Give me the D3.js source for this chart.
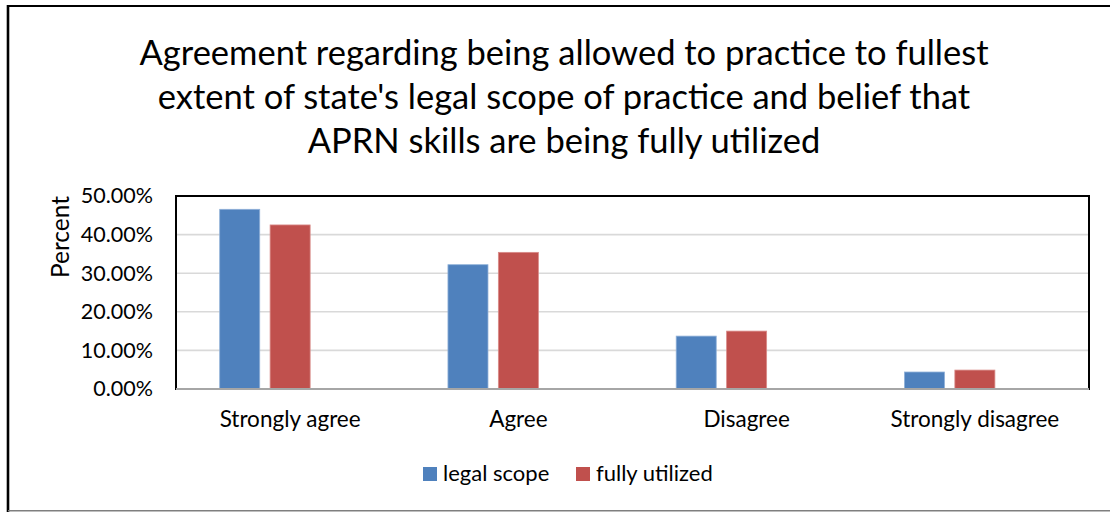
<!DOCTYPE html>
<html>
<head>
<meta charset="utf-8">
<script src="https://cdn.jsdelivr.net/npm/d3@7"></script>
<style>
  html, body { margin: 0; padding: 0; background: #fff; }
  svg { display: block; }
  text { font-family: Lato, "Open Sans", sans-serif; fill: #000; }
</style>
</head>
<body>
<svg id="chart" width="1110" height="512"></svg>
<script>
// ---- data ----
const titleLines = [
  "Agreement regarding being allowed to practice to fullest",
  "extent of state's legal scope of practice and belief that",
  "APRN skills are being fully utilized"
];
const categories = ["Strongly agree", "Agree", "Disagree", "Strongly disagree"];
const seriesNames = ["legal scope", "fully utilized"];
const legalScope = [0.4655, 0.322, 0.137, 0.044];
const fullyUtilized = [0.425, 0.354, 0.150, 0.049];
const yTicks = [0, 0.1, 0.2, 0.3, 0.4, 0.5];
const yAxisTitle = "Percent";
const colors = ["#4F81BD", "#C0504D"];

// ---- layout ----
const svg = d3.select("#chart");
const plot = { left: 176, right: 1089, top: 196, bottom: 389 };

// outer chart border
svg.append("line").attr("x1", 8).attr("x2", 1110).attr("y1", 6).attr("y2", 6)
  .attr("stroke", "#000").attr("stroke-width", 2.2);
svg.append("line").attr("x1", 8).attr("x2", 8).attr("y1", 5).attr("y2", 512)
  .attr("stroke", "#000").attr("stroke-width", 2.6);
svg.append("line").attr("x1", 8).attr("x2", 1110).attr("y1", 510.8).attr("y2", 510.8)
  .attr("stroke", "#7f7f7f").attr("stroke-width", 1.6);

// title
const titleG = svg.append("g");
titleLines.forEach((t, i) => {
  titleG.append("text")
    .attr("x", 564).attr("y", 65 + i * 44)
    .attr("text-anchor", "middle")
    .style("font-size", "34.5px")
    .text(t);
});

// scales
const y = d3.scaleLinear().domain([0, 0.5]).range([plot.bottom, plot.top]);
const x0 = d3.scaleBand().domain(categories).range([plot.left, plot.right]).padding(0);
// third, empty slot reproduces the original off-centre grouping
const x1 = d3.scaleBand().domain([...seriesNames, "_empty"]).range([0, x0.bandwidth()])
  .paddingInner(0.206).paddingOuter(0.867);

// gridlines
svg.append("g")
  .selectAll("line")
  .data(yTicks.filter(d => d > 0 && d < 0.5))
  .join("line")
  .attr("x1", plot.left).attr("x2", plot.right)
  .attr("y1", d => y(d)).attr("y2", d => y(d))
  .attr("stroke", "#d9d9d9").attr("stroke-width", 1.6);

// bars
const rows = categories.map((c, i) => ({ cat: c, vals: [legalScope[i], fullyUtilized[i]] }));
const barG = svg.append("g");
rows.forEach(r => {
  r.vals.forEach((v, j) => {
    barG.append("rect")
      .attr("x", x0(r.cat) + x1(seriesNames[j]))
      .attr("y", y(v))
      .attr("width", x1.bandwidth())
      .attr("height", y(0) - y(v))
      .attr("fill", colors[j])
      .attr("stroke", j === 0 ? "#8fb0d8" : "#d98b89")
      .attr("stroke-width", 0.8);
  });
});

// plot area border
svg.append("rect")
  .attr("x", plot.left).attr("y", plot.top)
  .attr("width", plot.right - plot.left).attr("height", plot.bottom - plot.top)
  .attr("fill", "none").attr("stroke", "#000").attr("stroke-width", 2);
// category axis line
svg.append("line").attr("x1", plot.left).attr("x2", plot.right)
  .attr("y1", plot.bottom).attr("y2", plot.bottom)
  .attr("stroke", "#a6a6a6").attr("stroke-width", 2);

// y axis labels
const yAxis = d3.axisLeft(y).tickValues(yTicks).tickFormat(d3.format(".2%")).tickSize(0).tickPadding(0);
const yg = svg.append("g").attr("transform", `translate(153,0)`).call(yAxis);
yg.select(".domain").remove();
yg.selectAll("text").style("font-size", "21.5px").style("font-family", "Lato, sans-serif").attr("fill", "#000");

// x axis labels
const xAxis = d3.axisBottom(x0).tickSize(0).tickPadding(0);
const xg = svg.append("g").attr("transform", `translate(0,411)`).call(xAxis);
xg.select(".domain").remove();
xg.selectAll("text").style("font-size", "22.5px").style("font-family", "Lato, sans-serif").attr("fill", "#000");

// y axis title
svg.append("text")
  .attr("transform", "translate(69,237) rotate(-90)")
  .attr("text-anchor", "middle")
  .style("font-size", "24.5px")
  .text(yAxisTitle);

// legend
const legendItems = [{ name: seriesNames[0], x: 423 }, { name: seriesNames[1], x: 576 }];
const lg = svg.append("g");
legendItems.forEach((d, i) => {
  lg.append("rect").attr("x", d.x).attr("y", 467).attr("width", 14).attr("height", 14).attr("fill", colors[i]);
  lg.append("text").attr("x", d.x + 20).attr("y", 481).style("font-size", "22px").text(d.name);
});
</script>
</body>
</html>
